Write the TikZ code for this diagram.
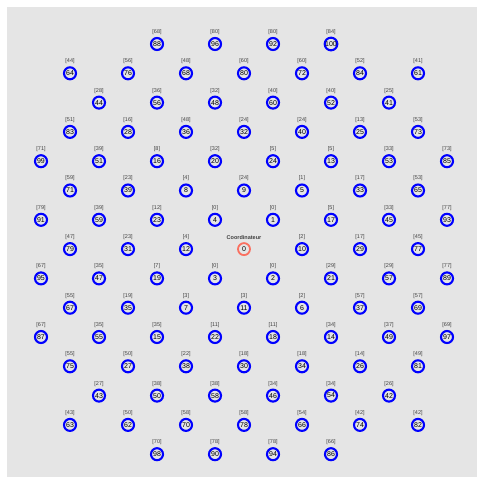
\documentclass[tikz,border=0pt]{standalone}
\usepackage{fontspec}
\setmainfont{Liberation Sans}
\definecolor{panelgray}{RGB}{229,229,229}
\definecolor{motering}{RGB}{0,0,255}
\definecolor{sinkring}{RGB}{250,112,96}
\begin{document}
\begin{tikzpicture}[
    x=1pt, y=-1pt,
    mote/.style={
        circle,
        draw=motering,
        line width=2.1pt,
        minimum size=12pt,
        inner sep=0pt,
        font=\fontsize{7}{8}\selectfont
    },
    sink/.style={mote, draw=sinkring, line width=1.8pt},
    tag/.style={
        inner sep=0pt,
        text=black!75,
        font=\fontsize{5.5}{6}\selectfont
    }
]
    \useasboundingbox (0,0) rectangle (484,483);
    \fill[panelgray] (7,7) rectangle (477,477);

    \node[sink] (n0) at (41+29*7, 44+29.3*7) {0};
    \node[tag, font=\fontsize{5.5}{6}\selectfont\bfseries] (p0) at ([yshift=11.5pt]n0.center) {Coordinateur};

    \foreach \id/\c/\r/\p in {
        88/4/0/68, 96/6/0/80, 92/8/0/80, 100/10/0/84,
        64/1/1/44, 76/3/1/56, 68/5/1/48, 80/7/1/60, 72/9/1/60, 84/11/1/52, 61/13/1/41,
        44/2/2/28, 56/4/2/36, 48/6/2/32, 60/8/2/40, 52/10/2/40, 41/12/2/25,
        83/1/3/51, 28/3/3/16, 36/5/3/48, 32/7/3/24, 40/9/3/24, 25/11/3/13, 73/13/3/53,
        99/0/4/71, 51/2/4/39, 16/4/4/8, 20/6/4/32, 24/8/4/5, 13/10/4/5, 53/12/4/33, 85/14/4/73,
        71/1/5/59, 39/3/5/23, 8/5/5/4, 9/7/5/24, 5/9/5/1, 33/11/5/17, 65/13/5/53,
        91/0/6/79, 59/2/6/39, 23/4/6/12, 4/6/6/0, 1/8/6/0, 17/10/6/5, 45/12/6/33, 93/14/6/77,
        79/1/7/47, 31/3/7/23, 12/5/7/4, 10/9/7/2, 29/11/7/17, 77/13/7/45,
        95/0/8/67, 47/2/8/35, 19/4/8/7, 3/6/8/0, 2/8/8/0, 21/10/8/29, 57/12/8/29, 89/14/8/77,
        67/1/9/55, 35/3/9/19, 7/5/9/3, 11/7/9/3, 6/9/9/2, 37/11/9/57, 69/13/9/57,
        87/0/10/67, 55/2/10/35, 15/4/10/35, 22/6/10/11, 18/8/10/11, 14/10/10/34, 49/12/10/37, 97/14/10/69,
        75/1/11/55, 27/3/11/50, 38/5/11/22, 30/7/11/18, 34/9/11/18, 26/11/11/14, 81/13/11/49,
        43/2/12/27, 50/4/12/38, 58/6/12/38, 46/8/12/34, 54/10/12/34, 42/12/12/26,
        63/1/13/43, 62/3/13/50, 70/5/13/58, 78/7/13/58, 66/9/13/54, 74/11/13/42, 82/13/13/42,
        98/4/14/70, 90/6/14/78, 94/8/14/78, 86/10/14/66} {
        \node[mote] (n\id) at (41+29*\c, 44+29.3*\r) {\id};
        \node[tag] (p\id) at ([yshift=12pt]n\id.center) {[\p]};
    }
\end{tikzpicture}
\end{document}
